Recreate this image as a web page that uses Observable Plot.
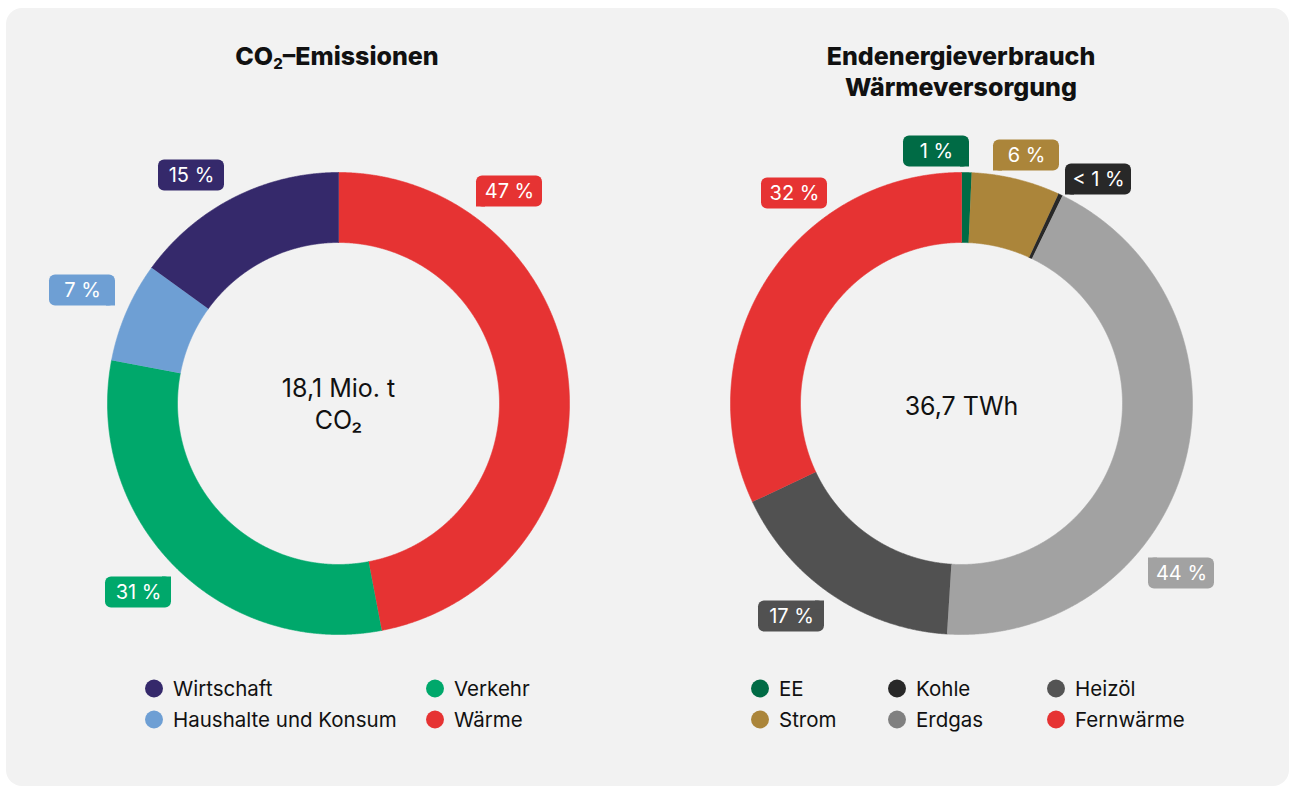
<!DOCTYPE html>
<html><head><meta charset="utf-8">
<script src="https://cdn.jsdelivr.net/npm/d3@7"></script>
<script src="https://cdn.jsdelivr.net/npm/@observablehq/plot@0.6"></script>
<style>
body{margin:0;background:#fff;font-family:Inter,"Noto Sans",sans-serif;width:1289px;height:789px;overflow:hidden;position:relative;}
#panel{position:absolute;left:6px;top:8px;width:1283px;height:778px;background:#f2f2f2;border-radius:16px;}
.title{position:absolute;font-weight:800;font-size:25px;text-align:center;color:#111;line-height:31px;white-space:nowrap;transform:translateX(-50%);}
.title sub{font-size:15px;vertical-align:-4px;line-height:0;}
.chart{position:absolute;}
.leg{position:absolute;font-size:20.5px;color:#111;white-space:nowrap;transform:translateY(-50%);display:flex;align-items:center;}
.leg .dot{width:18px;height:18px;border-radius:50%;position:absolute;left:-28px;top:50%;transform:translateY(-50%);}
</style>
</head><body>
<div id="panel"></div>
<div class="title" style="left:337px;top:41px;">CO<sub>2</sub>–Emissionen</div>
<div class="title" style="left:961px;top:41px;">Endenergieverbrauch<br>Wärmeversorgung</div>
<div id="c1" class="chart" style="left:18px;top:113px;"></div>
<div id="c2" class="chart" style="left:641px;top:113px;"></div>
<div id="legends"></div>
<script>
// ---- data ----
const co2Categories = ["Wärme", "Verkehr", "Haushalte und Konsum", "Wirtschaft"];
const co2Values = [47, 31, 7, 15];
const co2Labels = ["47 %", "31 %", "7 %", "15 %"];
const co2Colors = ["#e63333", "#00a86b", "#6e9fd4", "#35296b"];
const co2LegendColors = ["#e63333", "#00a86b", "#6e9fd4", "#35296b"];
const co2Center = ["18,1 Mio. t", "CO₂"];
const co2LegendOrder = ["Wirtschaft", "Haushalte und Konsum", "Verkehr", "Wärme"];

const heatCategories = ["EE", "Strom", "Kohle", "Erdgas", "Heizöl", "Fernwärme"];
const heatValues = [0.7, 6.2, 0.3, 43.8, 17, 32];
const heatLabels = ["1 %", "6 %", "< 1 %", "44 %", "17 %", "32 %"];
const heatColors = ["#006b45", "#ab853a", "#282828", "#a2a2a2", "#515151", "#e63333"];
const heatLegendColors = ["#006b45", "#ab853a", "#282828", "#808080", "#545454", "#e63333"];
const heatCenter = ["36,7 TWh"];
const heatLegendOrder = ["EE", "Strom", "Kohle", "Erdgas", "Heizöl", "Fernwärme"];

// ---- layout ----
const R_OUT = 231, R_IN = 161;
const co2LabelPos = [[171, 212, "bl"], [-200, -189, "tr"], [-256, 113, "br"], [-147, 228, ""]];
const heatLabelPos = [[-25, 252, "br"], [65, 248, "bl"], [137, 224, "bl"], [220, -170, "tl"], [-170, -213, "tr"], [-167, 210, ""]];
const co2CenterY = [15, -17];
const heatCenterY = [-3];

function donut(cats, vals, labels, colors, pos, centerLines, centerY) {
  const arcs = d3.pie().sort(null).value(d => d.value)(cats.map((c, i) => ({cat: c, value: vals[i]})));
  const pts = [];
  arcs.forEach(p => {
    const n = Math.max(2, Math.ceil((p.endAngle - p.startAngle) / 0.004));
    for (let k = 0; k <= n; k++) {
      const a = p.startAngle + (p.endAngle - p.startAngle) * k / n;
      pts.push({cat: p.data.cat, x: R_OUT * Math.sin(a), y: R_OUT * Math.cos(a)});
    }
    for (let k = n; k >= 0; k--) {
      const a = p.startAngle + (p.endAngle - p.startAngle) * k / n;
      pts.push({cat: p.data.cat, x: R_IN * Math.sin(a), y: R_IN * Math.cos(a)});
    }
  });
  const W = 33, H = 15.5, S = 9;
  const badges = cats.map((c, i) => ({cat: c, label: labels[i], dx: pos[i][0], dy: pos[i][1], corner: pos[i][2]}));
  const corners = badges.filter(b => b.corner).map(b => {
    const right = b.corner.includes("r"), top = b.corner.includes("t");
    return {
      cat: b.cat,
      x1: right ? b.dx + W - S : b.dx - W,
      x2: right ? b.dx + W : b.dx - W + S,
      y1: top ? b.dy + H - S : b.dy - H,
      y2: top ? b.dy + H : b.dy - H + S
    };
  });
  const center = centerLines.map((t, i) => ({t, y: centerY[i]}));
  return Plot.plot({
    width: 640, height: 580, margin: 0,
    x: {domain: [-320, 320], axis: null},
    y: {domain: [-290, 290], axis: null},
    color: {domain: cats, range: colors},
    style: {background: "transparent", overflow: "visible", fontFamily: "Inter, 'Noto Sans', sans-serif"},
    marks: [
      Plot.line(pts, {x: "x", y: "y", z: "cat", fill: "cat", stroke: "cat", strokeWidth: 0.6, curve: "linear"}),
      Plot.rect(badges, {x1: d => d.dx - W, x2: d => d.dx + W, y1: d => d.dy - H, y2: d => d.dy + H, fill: "cat", rx: 6}),
      Plot.rect(corners, {x1: "x1", x2: "x2", y1: "y1", y2: "y2", fill: "cat"}),
      Plot.text(badges, {x: "dx", y: "dy", text: "label", fill: "white", fontSize: 20}),
      Plot.text(center, {x: () => 0, y: "y", text: "t", fontSize: 25, fill: "#111"})
    ]
  });
}

document.getElementById("c1").appendChild(donut(co2Categories, co2Values, co2Labels, co2Colors, co2LabelPos, co2Center, co2CenterY));
document.getElementById("c2").appendChild(donut(heatCategories, heatValues, heatLabels, heatColors, heatLabelPos, heatCenter, heatCenterY));

// ---- legends ----
const legCols1 = [154, 435], legCols2 = [760, 897, 1056], legRows = [688, 719];
function legend(order, cats, colors, cols) {
  const host = document.getElementById("legends");
  order.forEach((c, i) => {
    const col = Math.floor(i / 2), row = i % 2;
    const el = document.createElement("div");
    el.className = "leg";
    el.style.left = (cols[col] + 19) + "px";
    el.style.top = legRows[row] + "px";
    const dot = document.createElement("span");
    dot.className = "dot";
    dot.style.background = colors[cats.indexOf(c)];
    el.appendChild(dot);
    el.appendChild(document.createTextNode(c));
    host.appendChild(el);
  });
}
legend(co2LegendOrder, co2Categories, co2LegendColors, legCols1);
legend(heatLegendOrder, heatCategories, heatLegendColors, legCols2);
</script>
</body></html>
